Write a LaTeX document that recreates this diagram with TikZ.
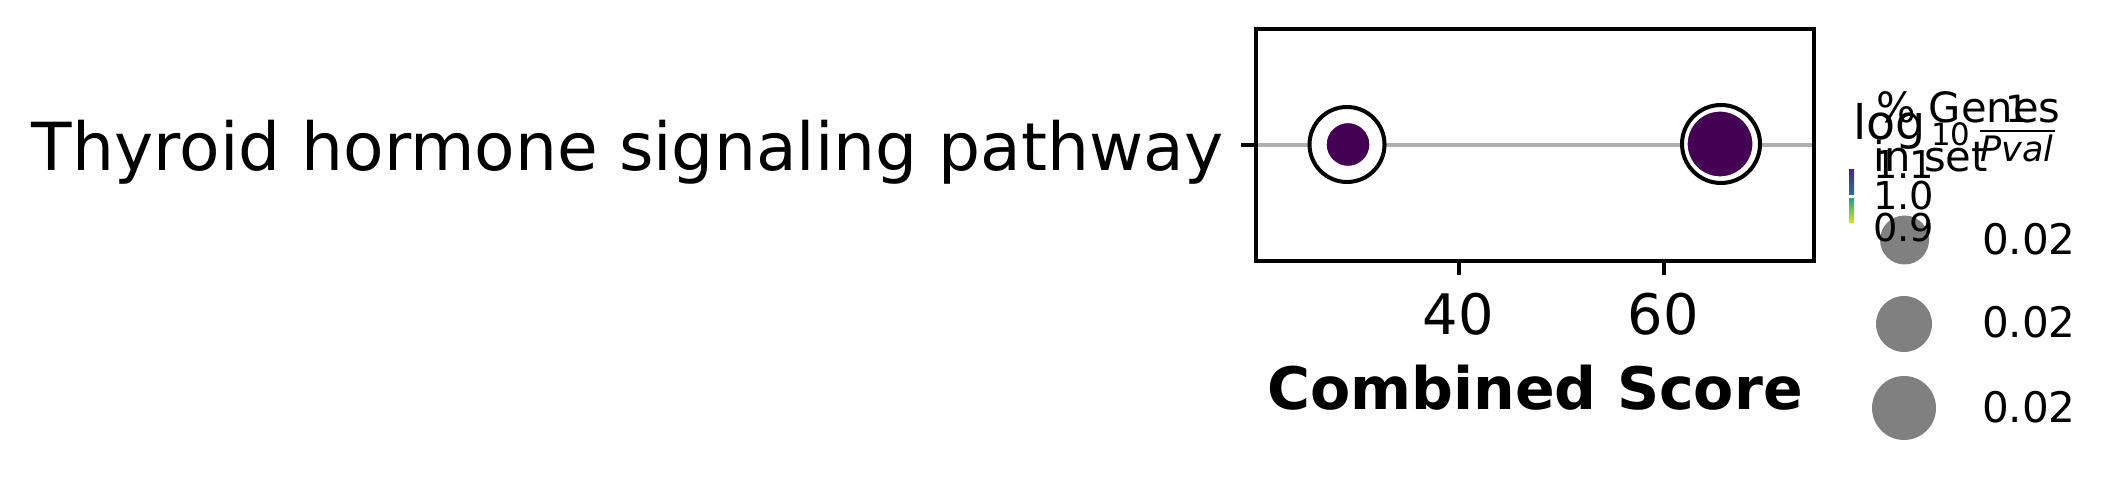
\documentclass[tikz,border=0pt]{standalone}
\usepackage{fontspec}
\setmainfont{DejaVu Sans}
\begin{document}
\begin{tikzpicture}[x=0.24pt,y=-0.24pt,
  txt/.style={inner sep=0pt, outer sep=0pt},
  spine/.style={line width=0.8pt, black},
  tickmark/.style={line width=0.8pt, black},
  gridline/.style={line width=0.85pt, color=gridgrey},
  ring/.style={line width=0.96pt, draw=black, fill=white},
  dot/.style={fill=vpurple, draw=white, line width=0.3pt},
  legdot/.style={fill=leggrey}]
\definecolor{gridgrey}{HTML}{B0B0B0}
\definecolor{vpurple}{HTML}{440154}
\definecolor{leggrey}{HTML}{808080}
\definecolor{vA}{HTML}{472D7B}
\definecolor{vB}{HTML}{2C718E}
\definecolor{vC}{HTML}{25A585}
\definecolor{vD}{HTML}{DDE318}
\useasboundingbox (0,0) rectangle (2118,478);
% axes
\coordinate (gl) at (1256,145);
\coordinate (gr) at (1814,145);
\draw[gridline] (gl) -- (gr);
\draw[spine] (1256,29) rectangle (1814,261);
\coordinate (yt) at (1241,145);
\draw[tickmark] (yt) -- (gl);
\coordinate (xt40a) at (1459,261);
\coordinate (xt40b) at (1459,275);
\coordinate (xt60a) at (1664,261);
\coordinate (xt60b) at (1664,275);
\draw[tickmark] (xt40a) -- (xt40b);
\draw[tickmark] (xt60a) -- (xt60b);
% points
\draw[ring] (1347,144.5) circle [radius=37.5];
\fill[dot] (1348,144.5) circle [radius=22];
\draw[ring] (1721,144) circle [radius=39];
\fill[dot] (1720,144) circle [radius=33];
% labels
\node[txt, anchor=base east, font=\fontsize{15.9}{18}\selectfont] (ylab) at (1223,171) {Thyroid hormone signaling pathway};
\node[txt, anchor=base, font=\fontsize{13.4}{16}\selectfont] (t40) at (1458,335) {40};
\node[txt, anchor=base, font=\fontsize{13.4}{16}\selectfont] (t60) at (1663,335) {60};
\node[txt, anchor=base, font=\bfseries\fontsize{14.05}{17}\selectfont] (xlab) at (1535,410) {Combined Score};
% size legend circles
\fill[legdot] (1904.5,240) circle [radius=24.5];
\fill[legdot] (1904,324) circle [radius=28];
\fill[legdot] (1904,408) circle [radius=32];
% colorbar
\shade[top color=vA, bottom color=vB] (1849,170) rectangle (1854,195);
\shade[top color=vC, bottom color=vD] (1849,199) rectangle (1854,223);
\node[txt, anchor=base west, font=\fontsize{9.2}{11}\selectfont] (c11) at (1873,179) {1.1};
\node[txt, anchor=base west, font=\fontsize{9.2}{11}\selectfont] (c10) at (1873,210) {1.0};
\node[txt, anchor=base west, font=\fontsize{9.2}{11}\selectfont] (c09) at (1873,242) {0.9};
% colorbar label
\node[txt, anchor=base west, font=\fontsize{11.4}{13}\selectfont] (lg) at (1853,140) {log};
\node[txt, anchor=base west, font=\fontsize{7.4}{9}\selectfont] (lg10) at (1931,146) {10};
\node[txt, anchor=base, font=\fontsize{9}{11}\selectfont] (num) at (2017,123) {1};
\coordinate (fba) at (1980,131);
\coordinate (fbb) at (2055,131);
\draw[line width=0.5pt] (fba) -- (fbb);
\node[txt, anchor=base, font=\itshape\fontsize{8.4}{10}\selectfont] (den) at (2017,162) {Pval};
% size legend
\node[txt, anchor=base west, font=\fontsize{10}{12}\selectfont] (lt1) at (1876,123) {\% Genes};
\node[txt, anchor=base west, font=\fontsize{10}{12}\selectfont] (lt2) at (1873,172) {in set};
\node[txt, anchor=base west, font=\fontsize{10.1}{12}\selectfont] (l1) at (1982,255) {0.02};
\node[txt, anchor=base west, font=\fontsize{10.1}{12}\selectfont] (l2) at (1982,338) {0.02};
\node[txt, anchor=base west, font=\fontsize{10.1}{12}\selectfont] (l3) at (1982,423) {0.02};
\end{tikzpicture}
\end{document}
